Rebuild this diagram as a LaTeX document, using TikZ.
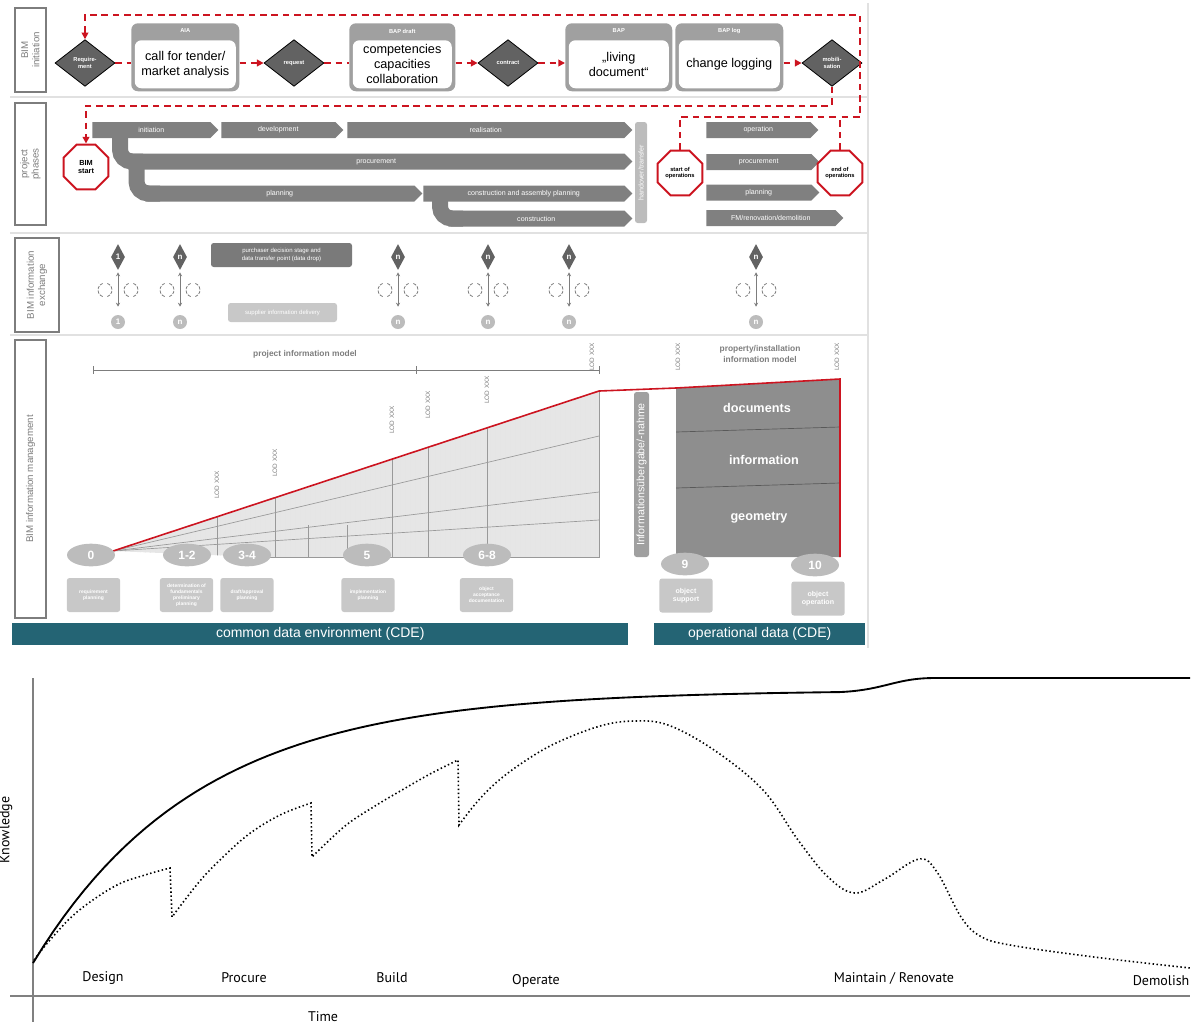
\documentclass[tikz,border=0pt]{standalone}
\usepackage{fontspec}
\setmainfont{Liberation Sans}
\newfontfamily\chartfont{PT Sans}
\usepackage{tikz}
\usetikzlibrary{positioning,arrows.meta,shapes.geometric,shapes.symbols,calc}

\definecolor{bimred}{RGB}{204,20,32}
\definecolor{bargray}{RGB}{128,128,128}
\definecolor{headgray}{RGB}{160,160,160}
\definecolor{softgray}{RGB}{188,188,188}
\definecolor{boxgray}{RGB}{200,200,200}
\definecolor{textgray}{RGB}{125,125,125}
\definecolor{diagray}{RGB}{98,98,98}
\definecolor{blockgray}{RGB}{142,142,142}
\definecolor{wedgegray}{RGB}{230,230,230}
\definecolor{cdeteal}{RGB}{36,100,116}
\definecolor{framegray}{RGB}{225,225,225}

\def\pxu{0.75pt}
\newcommand{\fsz}[2]{\fontsize{#1}{#2}\selectfont}

\tikzset{
  seclabel/.style={draw=textgray, text=textgray, rotate=90, align=center, font=\fsz{7.3}{8.5}, inner sep=0pt, line width=0.8pt},
  reddash/.style={bimred, line width=1.5pt, dash pattern=on 5pt off 3.5pt},
  redtip/.style={-{Triangle[length=5pt,width=5pt]}},
  headbox/.style={fill=headgray, rounded corners=5pt, minimum height=51pt, inner sep=0pt},
  innerbox/.style={fill=white, rounded corners=5pt, minimum height=36pt, inner sep=1pt, align=center, font=\fsz{9.5}{11.2}},
  headtext/.style={text=white, font=\bfseries\fsz{4.3}{5}},
  decision/.style={diamond, draw=black, fill=diagray, line width=0.6pt, minimum width=45pt, minimum height=35pt, inner sep=0pt, text=white, align=center, font=\bfseries\fsz{4.3}{5}},
  stopsign/.style={regular polygon, regular polygon sides=8, draw=bimred, fill=white, line width=1.5pt, minimum size=36.5pt, inner sep=0pt, align=center, font=\bfseries\fsz{4.3}{5.2}},
  phasebar/.style={signal, signal to=east, signal pointer angle=90, fill=bargray, minimum height=12pt, inner sep=0pt, text=white, font=\fsz{5.3}{6.3}, anchor=west},
  branch/.style={bargray, line width=12pt, rounded corners=9pt},
  rotbar/.style={rotate=90, rounded corners=2pt, inner sep=0pt, text=white},
  exdia/.style={diamond, fill=diagray, minimum width=10.5pt, minimum height=19.5pt, inner sep=0pt, text=white, font=\bfseries\fsz{6}{7}},
  exdot/.style={circle, fill=softgray, minimum size=10.5pt, inner sep=0pt, text=white, font=\bfseries\fsz{6}{7}},
  exarrow/.style={<->, >={Stealth[length=3pt,width=3pt]}, textgray, line width=0.6pt},
  rotarc/.style={textgray, line width=0.6pt, dash pattern=on 2.5pt off 1pt},
  exbox/.style={rounded corners=2pt, inner sep=0pt, text=white, align=center, font=\fsz{4.5}{5.5}},
  lodlabel/.style={rotate=90, text=textgray, font=\fsz{4.8}{5.5}, inner sep=0pt},
  modeltitle/.style={text=textgray, font=\bfseries\fsz{6.3}{7.8}, align=center},
  phasenum/.style={ellipse, fill=softgray, minimum width=36pt, minimum height=17pt, inner sep=0pt, text=white, font=\bfseries\fsz{9}{10}},
  phasebox/.style={fill=boxgray, rounded corners=2pt, minimum width=40pt, minimum height=25.5pt, inner sep=0pt, text=white, align=center, font=\bfseries\fsz{3.7}{4.4}},
  blocklabel/.style={text=white, font=\bfseries\fsz{9.5}{11}},
  cdebar/.style={fill=cdeteal, minimum height=16pt, inner sep=0pt, text=white, font=\fsz{10.5}{12}, anchor=north west},
  chartlabel/.style={font=\chartfont\fsz{10.5}{12}},
  axisline/.style={gray, line width=1.1pt},
  solidcurve/.style={black, line width=1.4pt},
  dotcurve/.style={black, line width=1.2pt, dash pattern=on 1.1pt off 1.9pt}
}

\begin{document}
\begin{tikzpicture}[x=0.75pt,y=-0.75pt,>={Stealth[]}]
\useasboundingbox (0,0) rectangle (1194,1025);

% frame of the upper chart
\draw[framegray, line width=0.8pt] (868,3) -- (868,648);
\foreach \y in {97,233,335} \draw[framegray, line width=1pt] (10,\y) -- (868,\y);

\node[seclabel, minimum width=63pt, minimum height=23.25pt] (labini) at (30.5,50) {BIM\\initiation};
\node[seclabel, minimum width=91.5pt, minimum height=23.25pt] (labpha) at (30.5,164) {project\\phases};
\node[seclabel, minimum width=70.5pt, minimum height=33pt] (labexc) at (37,285) {BIM information\\exchange};
\node[seclabel, minimum width=208.5pt, minimum height=23.25pt] (labman) at (30.5,479) {BIM information management};

% BIM initiation
\foreach \n/\xa/\xb/\hd/\t in {aia/131/239/AIA/{call for tender/\\market analysis}, bapd/349/455/BAP draft/{competencies\\capacities\\collaboration}, bap/565/672/BAP/{„living\\document“}, bapl/675/783/BAP log/{change logging}} {
  \node[headbox, minimum width={(\xb-\xa)*\pxu}, anchor=north west] (\n) at (\xa,23) {};
  \node[headtext] (\n h) at ($(\n.north)+(0,8)$) {\hd};
  \node[innerbox, minimum width={(\xb-\xa-7)*\pxu}] (\n t) at ($(\n.center)+(0,7)$) {\t};
}
\foreach \n/\x/\t in {req/85/{Require-\\ment}, rqs/294/request, ctr/508/contract, mob/832/{mobili-\\sation}}
  \node[decision] (\n) at (\x,63) {\t};

\draw[reddash] (req.east) -- (req.east -| aia.west);
\draw[reddash, redtip] (aia.east |- rqs) -- (rqs.west);
\draw[reddash] (rqs.east) -- (rqs.east -| bapd.west);
\draw[reddash, redtip] (bapd.east |- ctr) -- (ctr.west);
\draw[reddash, redtip] (ctr.east) -- (ctr.east -| bap.west);
\draw[reddash, redtip] (bapl.east |- mob) -- (mob.west);

% project phases
\foreach \n/\xa/\xb/\yc/\t in {ini/92/218/130/initiation, dev/221/343/130/development, rea/347/632/130/realisation, pro/128/632/161.5/procurement, pla/145/422/193.5/planning, cap/423/632/193.5/construction and assembly planning, con/448/632/218.5/construction, opr/706/818/130/operation, opro/706/819/162/procurement, opla/706/819/192.5/planning, fm/706/843/218/{FM/renovation/demolition}}
  \node[phasebar, minimum width={(\xb-\xa)*\pxu}] (\n) at (\xa,\yc) {\t};
\draw[branch] ($(ini.west)+(28,0)$) |- ($(pro.west)+(15,0)$);
\draw[branch] ($(pro.west)+(8.5,0)$) |- ($(pla.west)+(15,0)$);
\draw[branch] ($(cap.west)+(17,0)$) |- ($(con.west)+(15,0)$);
\node[rotbar, fill=softgray, minimum width=75.75pt, minimum height=9pt, font=\fsz{5.3}{6.3}] (hot) at (641,172.5) {handover/transfer};

\node[stopsign, font=\bfseries\fsz{5.5}{6.6}] (bst) at (86,167) {BIM\\start};
\node[stopsign] (sop) at (680,173) {start of\\operations};
\node[stopsign] (eop) at (840,173) {end of\\operations};

\coordinate (loopr) at (860,117);
\coordinate (loopt) at (860,15);
\draw[reddash, redtip] (eop.north) |- (loopr) -- (loopt) -| (req.north);
\draw[reddash] (sop.north) |- (eop.north |- loopr);
\draw[reddash, redtip] (mob.south) |- ($(bst.north)+(0,-38)$) -- (bst.north);

% BIM information exchange
\foreach \x/\t [count=\i] in {118/1, 180/n, 398/n, 488/n, 569/n, 756/n} {
  \node[exdia] (xd\i) at (\x,257) {\t};
  \node[exdot] (xc\i) at (\x,322) {\t};
  \draw[exarrow, shorten <=1.5pt, shorten >=6pt] (xd\i) -- (xc\i);
  \foreach \s in {-1,1} {
    \draw[rotarc] (\x+\s*13,290) +(110:7) arc[start angle=110, end angle=250, radius=7];
    \draw[rotarc] (\x+\s*13,290) +(-70:7) arc[start angle=-70, end angle=70, radius=7];
  }
}
\node[exbox, fill=diagray!85!white, minimum width=105.75pt, minimum height=18pt] (drop) at (281.5,255) {purchaser decision stage and\\data transfer point (data drop)};
\node[exbox, fill=boxgray, minimum width=81.75pt, minimum height=14.25pt] (supp) at (282.5,312.5) {supplier information delivery};

% BIM information management
\draw[textgray, line width=0.6pt] (93,370) -- (599,370);
\foreach \x in {93,416,599} \draw[textgray, line width=0.6pt] (\x,366) -- (\x,374);
\node[modeltitle] (pim) at (305,354) {project information model};
\node[modeltitle] (aim) at (760,354) {property/installation\\information model};
\foreach \x/\y [count=\i] in {217/485, 275/463, 392/420, 428/405, 487/390, 592/357, 678/357, 837/357}
  \node[lodlabel] (lod\i) at (\x,\y) {LOD XXX};

\coordinate (tip) at (113,551);
\coordinate (wtop) at (599,391);
\coordinate (wbot) at (599,557);
\fill[wedgegray] (tip) -- (wtop) -- (wbot) -- (260,557) -- cycle;
\begin{scope}
  \clip (tip) -- (wtop) -- (wbot) -- (260,557) -- cycle;
  \draw[white!80!gray, line width=0.2pt, step=5] (100,380) grid (600,560);
  \foreach \x in {217,275,392,428,487} \draw[gray!80, line width=0.5pt] (\x,380) -- (\x,560);
  \foreach \x in {308,347} \draw[gray!80, line width=0.5pt] (\x,525) -- (\x,560);
  \draw[gray!80, line width=0.5pt] (tip) -- (599,436);
  \draw[gray!80, line width=0.5pt] (tip) -- (599,492);
  \draw[gray!80, line width=0.5pt] (tip) -- (599,520);
\end{scope}
\draw[gray!80, line width=0.5pt] (wtop) -- (wbot) -- (260,557);

\fill[blockgray] (676,388) -- (840,379) -- (840,557) -- (676,557) -- cycle;
\draw[gray!70!black, line width=0.5pt] (676,432) -- (840,427);
\draw[gray!70!black, line width=0.5pt] (676,488) -- (840,483);
\node[blocklabel] (docs) at (757,408) {documents};
\node[blocklabel] (info) at (764,460) {information};
\node[blocklabel] (geom) at (759,518) {geometry};
\draw[bimred, line width=1.2pt] (tip) -- (wtop) -- (676,388) -- (840,379) -- (840,557);

\node[rotbar, fill=softgray!85!black, minimum width=123.75pt, minimum height=11.25pt, font=\fsz{8}{9}] (ueber) at (641.5,474.5) {Informationsübergabe/-nahme};

\foreach \n/\x/\y/\t in {p0/91/555/0, p12/187/555/1-2, p34/247/555/3-4, p5/367/555/5, p68/487/555/6-8, p9/685/564/9, p10/815/565/10}
  \node[phasenum] (\n) at (\x,\y) {\t};
\foreach \n/\x/\y/\t in {rp/93.5/595/{requirement\\planning}, dfp/186.5/595/{determination of\\fundamentals\\preliminary\\planning}, dap/247/595/{draft/approval\\planning}, ip/368/595/{implementation\\planning}, oad/486.5/595/{object\\acceptance\\documentation}}
  \node[phasebox] (\n) at (\x,\y) {\t};
\foreach \n/\x/\y/\t in {os/686/595.5/{object\\support}, oo/818/598.5/{object\\operation}}
  \node[phasebox, font=\bfseries\fsz{5.3}{6.5}] (\n) at (\x,\y) {\t};

\node[cdebar, minimum width=462pt] (cde) at (12,623) {common data environment (CDE)};
\node[cdebar, minimum width=158.25pt] (ode) at (654,623) {operational data (CDE)};

% knowledge over time
\draw[axisline] (10,996) -- (1190,996);
\draw[axisline] (33,678) -- (33,1022);
\draw[solidcurve] plot[domain=33:840, samples=80] (\x,{690+273*exp(-(\x-33)/165)}) .. controls (885,690) and (895,678) .. (935,678) -- (1190,678);
\draw[dotcurve] plot[smooth, tension=0.6] coordinates {(34,960) (50,940) (77,912) (115,886) (145,875) (170,868)} -- (172,917)
  -- plot[smooth, tension=0.6] coordinates {(172,917) (199,882) (222,858) (249,834) (280,815) (311,803)} -- (312,857)
  -- plot[smooth, tension=0.6] coordinates {(312,857) (345,826) (375,806) (402,790) (430,774) (458,760)} -- (459,825)
  -- plot[smooth, tension=0.6] coordinates {(459,825) (477,802) (498,781) (525,761) (556,743) (600,726) (634,721) (668,725) (714,750) (763,790) (798,840) (828,877) (855,893) (885,879) (919,859) (937,872) (961,917) (980,936) (1010,945) (1094,957) (1190,968)};
\foreach \n/\x/\y/\t in {design/103/978/Design, procure/244/978/Procure, build/392/978/Build, operate/536/981/Operate, maintain/894/978/{Maintain / Renovate}}
  \node[chartlabel] (\n) at (\x,\y) {\t};
\node[chartlabel, anchor=east] (demolish) at (1194,981) {Demolish};
\node[chartlabel] (time) at (323,1017) {Time};
\node[chartlabel, rotate=90] (know) at (6,830) {Knowledge};
\end{tikzpicture}
\end{document}
